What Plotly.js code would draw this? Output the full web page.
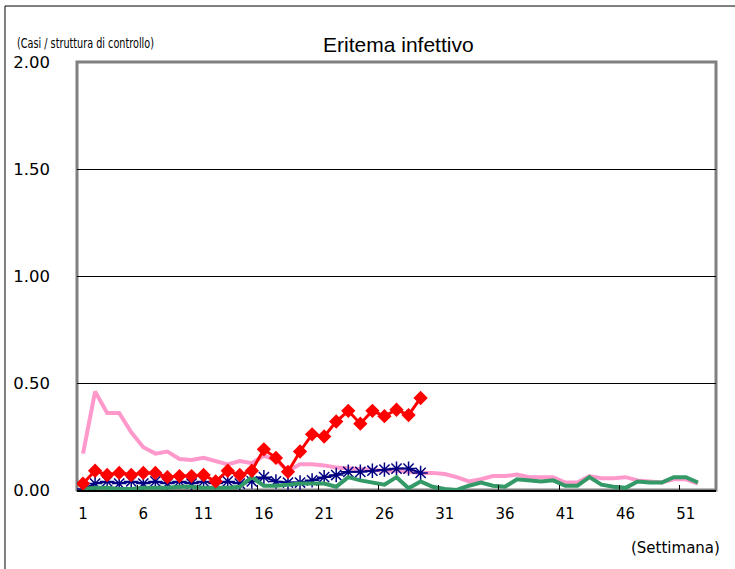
<!DOCTYPE html>
<html><head><meta charset="utf-8">
<script src="https://cdn.plot.ly/plotly-3.0.1.min.js"></script>
<style>html,body{margin:0;padding:0;background:#fff;}#chart{width:735px;height:569px;}</style>
</head><body><div id="chart"></div>
<script>
const weeks = [1,2,3,4,5,6,7,8,9,10,11,12,13,14,15,16,17,18,19,20,21,22,23,24,25,26,27,28,29,30,31,32,33,34,35,36,37,38,39,40,41,42,43,44,45,46,47,48,49,50,51,52];
const tickWeeks = [1,6,11,16,21,26,31,36,41,46,51];
const tickLabels = ["1","6","11","16","21","26","31","36","41","46","51"];
const yTicks = [0,0.5,1,1.5,2];
const yTickLabels = ["0.00","0.50","1.00","1.50","2.00"];

const pinkSeries = [0.17,0.46,0.36,0.36,0.27,0.20,0.17,0.18,0.145,0.14,0.15,0.135,0.12,0.135,0.125,0.16,0.14,0.09,0.12,0.12,0.115,0.105,0.10,0.095,0.093,0.09,0.09,0.085,0.08,0.08,0.075,0.06,0.04,0.05,0.065,0.065,0.072,0.06,0.06,0.06,0.035,0.035,0.065,0.055,0.055,0.06,0.045,0.04,0.035,0.05,0.05,0.03];
const greenSeries = [0.005,0.01,0.01,0.005,0.005,0.01,0.01,0.01,0.015,0.015,0.01,0.01,0.01,0.015,0.06,0.02,0.02,0.025,0.03,0.03,0.03,0.015,0.06,0.045,0.035,0.025,0.06,0.008,0.04,0.015,0.005,0.0,0.02,0.035,0.02,0.015,0.05,0.045,0.04,0.045,0.02,0.02,0.06,0.025,0.015,0.01,0.04,0.035,0.035,0.06,0.06,0.035];
const blueSeries = [0.005,0.03,0.04,0.03,0.04,0.03,0.04,0.03,0.04,0.03,0.04,0.03,0.04,0.03,0.04,0.06,0.04,0.035,0.035,0.045,0.06,0.07,0.085,0.085,0.09,0.095,0.10,0.10,0.08];
const redSeries = [0.03,0.09,0.07,0.08,0.07,0.08,0.08,0.06,0.065,0.065,0.07,0.04,0.09,0.07,0.09,0.19,0.15,0.085,0.18,0.26,0.25,0.32,0.37,0.31,0.37,0.345,0.375,0.35,0.43];

// boundaries between categories for inner tick marks
const boundaryTicks = tickWeeks.slice(1).map(w => w - 0.5);

const traces = [
  {x: weeks.slice(0, pinkSeries.length), y: pinkSeries, type:'scatter', mode:'lines',
   line:{color:'#ff99cc', width:4}, hoverinfo:'skip'},
  {x: weeks.slice(0, blueSeries.length), y: blueSeries, type:'scatter', mode:'lines+markers',
   line:{color:'#000080', width:2}, marker:{symbol:'asterisk-open', size:12, line:{color:'#000080', width:1.5}}, hoverinfo:'skip'},
  {x: weeks.slice(0, greenSeries.length), y: greenSeries, type:'scatter', mode:'lines',
   line:{color:'#339966', width:4}, hoverinfo:'skip'},
  {x: weeks.slice(0, redSeries.length), y: redSeries, type:'scatter', mode:'lines+markers',
   line:{color:'#ff0000', width:3}, marker:{symbol:'diamond', size:11, color:'#ff0000'}, hoverinfo:'skip'},
  {x: [weeks[0]], y: [null], xaxis:'x2', type:'scatter', mode:'lines', hoverinfo:'skip', showlegend:false}
];

const layout = {
  width:735, height:569,
  margin:{l:77, r:19, t:62, b:79},
  paper_bgcolor:'#ffffff', plot_bgcolor:'#ffffff',
  showlegend:false,
  font:{family:'DejaVu Sans, sans-serif', color:'#000'},
  title:{text:'Eritema infettivo', font:{family:'Liberation Sans, Arial, sans-serif', size:21, color:'#000'},
         x:0.542, xanchor:'center', y:0.921, yanchor:'middle'},
  xaxis:{range:[0.5,53.5], tickmode:'array', tickvals:tickWeeks, ticktext:tickLabels,
         ticks:'', showgrid:false, zeroline:false, showline:true, linecolor:'#000', linewidth:2,
         tickfont:{family:'DejaVu Sans, sans-serif', size:15, color:'#000'}, ticklabelstandoff:9},
  xaxis2:{range:[0.5,53.5], overlaying:'x', anchor:'y', side:'bottom', tickmode:'array', tickvals:boundaryTicks,
          ticks:'inside', ticklen:5, tickwidth:1, tickcolor:'#000', showticklabels:false, showgrid:false, zeroline:false, showline:false},
  yaxis:{range:[0,2], tickmode:'array', tickvals:yTicks, ticktext:yTickLabels, ticks:'',
         showgrid:true, gridcolor:'#000', gridwidth:1, zeroline:false,
         showline:false,
         tickfont:{family:'DejaVu Sans, sans-serif', size:16.5, color:'#000'}, ticklabelstandoff:26},
  shapes:[
    {type:'rect', xref:'paper', yref:'paper', x0:0, x1:1, y0:0, y1:1, line:{color:'#808080', width:3}, layer:'below'},
    {type:'rect', xref:'paper', yref:'paper', x0:-0.1127, x1:1.1, y0:-0.3, y1:1.1308, line:{color:'#000', width:1}, fillcolor:'rgba(0,0,0,0)'}
  ],
  annotations:[
    {text:'(Casi / struttura di controllo)', xref:'paper', yref:'paper', x:-0.097, y:1.021, xanchor:'left', yanchor:'bottom',
     showarrow:false, font:{family:'DejaVu Sans, sans-serif', size:13.5, color:'#000'}},
    {text:'(Settimana)', xref:'paper', yref:'paper', x:1.009, y:-0.1355, xanchor:'right', yanchor:'middle',
     showarrow:false, font:{family:'DejaVu Sans, sans-serif', size:15, color:'#000'}}
  ]
};
Plotly.newPlot('chart', traces, layout, {staticPlot:true, displayModeBar:false}).then(function(){
  var anns = document.querySelectorAll('.annotation-text');
  if (anns.length) {
    var t = anns[0];
    var bb = t.getBBox();
    var cx = bb.x + bb.width / 2;
    var target = 137;
    var s = target / bb.width;
    t.setAttribute('transform', 'translate(' + (cx - cx * s - (bb.width - target) / 2) + ',0) scale(' + s + ',1)');
  }
});
</script>
</body></html>
